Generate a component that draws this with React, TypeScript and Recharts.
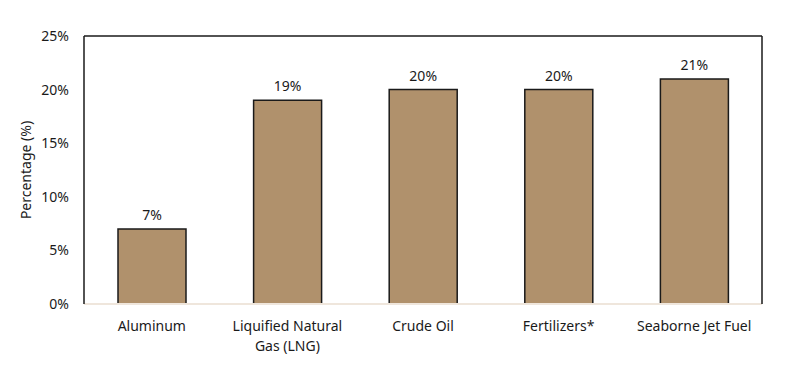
import { BarChart, Bar, XAxis, YAxis, LabelList, Text } from "recharts";

const categories = [
  "Aluminum",
  "Liquified Natural Gas (LNG)",
  "Crude Oil",
  "Fertilizers*",
  "Seaborne Jet Fuel",
];
const shares = [7, 19, 20, 20, 21];
const yTicks = [0, 5, 10, 15, 20, 25];

const data = categories.map((name, i) => ({ name, value: shares[i] }));

const FONT = "'Noto Sans', 'Open Sans', sans-serif";
const INK = "#1a1a1a";

function CategoryTick(props: any) {
  const { x, y, payload } = props;
  return (
    <Text
      x={x}
      y={y + 9}
      width={140}
      textAnchor="middle"
      verticalAnchor="start"
      fontSize={14}
      fontFamily={FONT}
      fill={INK}
      lineHeight={20}
    >
      {payload.value}
    </Text>
  );
}

export default function App() {
  return (
    <div style={{ position: "absolute", left: 0, top: 0, background: "#fff" }}>
      <BarChart
        width={800}
        height={366}
        data={data}
        margin={{ top: 35, right: 37, bottom: 0, left: 0 }}
      >
        <XAxis
          dataKey="name"
          interval={0}
          tickLine={false}
          axisLine={{ stroke: "#efe6dc", strokeWidth: 2 }}
          tick={<CategoryTick />}
          height={62}
        />
        <XAxis
          xAxisId="top"
          orientation="top"
          dataKey="name"
          tick={false}
          tickLine={false}
          height={1}
          axisLine={{ stroke: INK, strokeWidth: 1.5 }}
        />
        <YAxis
          domain={[0, 25]}
          ticks={yTicks}
          width={84}
          tickSize={0}
          tickMargin={15}
          tickFormatter={(v: number) => `${v}%`}
          tick={{ fontSize: 14, fontFamily: FONT, fill: INK }}
          axisLine={{ stroke: INK, strokeWidth: 1.5 }}
          label={{
            value: "Percentage (%)",
            angle: -90,
            position: "insideLeft",
            offset: 26,
            style: { textAnchor: "middle", fontSize: 14, fontFamily: FONT, fill: INK },
          }}
        />
        <YAxis
          yAxisId="right"
          orientation="right"
          domain={[0, 25]}
          tick={false}
          tickLine={false}
          width={1}
          axisLine={{ stroke: INK, strokeWidth: 1.5 }}
        />
        <Bar
          dataKey="value"
          fill="#b0916c"
          stroke={INK}
          strokeWidth={1.5}
          barSize={68}
          isAnimationActive={false}
        >
          <LabelList
            dataKey="value"
            position="top"
            offset={9}
            formatter={(v: any) => `${v}%`}
            style={{ fontSize: 14, fontFamily: FONT, fill: INK }}
          />
        </Bar>
      </BarChart>
    </div>
  );
}
